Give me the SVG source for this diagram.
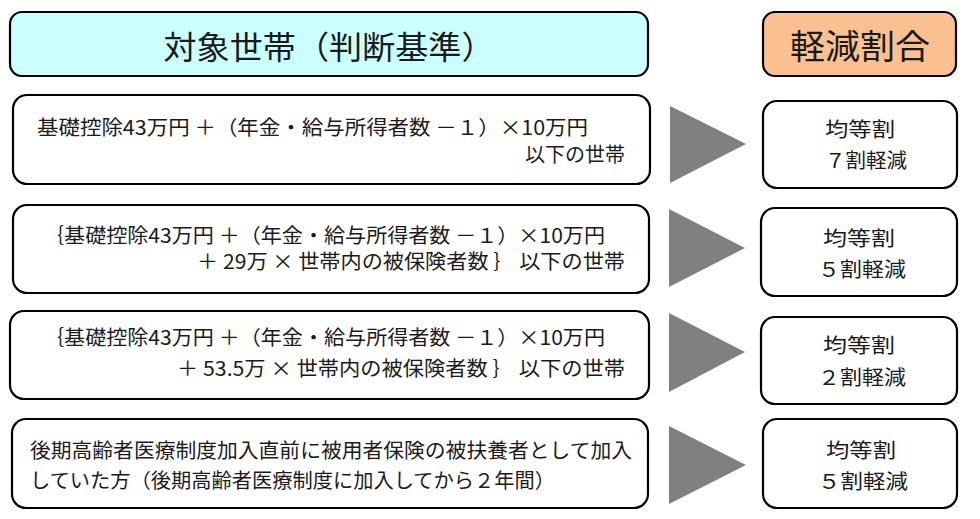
<svg xmlns="http://www.w3.org/2000/svg" width="980" height="519" viewBox="0 0 980 519">
<style>
.box{fill:#fff;stroke:#000;stroke-width:2.2}
.hdr1{fill:#CCFFFF;stroke:#000;stroke-width:2.2}
.hdr2{fill:#FAC090;stroke:#000;stroke-width:2.2}
.arrow{fill:#808080}
text{font-family:"Noto Sans CJK JP","Noto Sans",sans-serif;fill:#1a1a1a}
.t{font-size:20px}
.r{font-size:20px;text-anchor:middle}
.h{font-size:32px;text-anchor:middle}
</style>
<rect width="980" height="519" fill="#fff"/>
<g id="header-target">
<rect class="hdr1" x="10" y="12" width="638" height="64" rx="12"/>
<text class="h" x="329" y="59" textLength="331" lengthAdjust="spacingAndGlyphs">対象世帯（判断基準）</text>
</g>
<g id="header-rate">
<rect class="hdr2" x="763" y="12" width="193" height="64" rx="12"/>
<text class="h" x="860" y="59" style="font-size:34px" textLength="140" lengthAdjust="spacingAndGlyphs">軽減割合</text>
</g>
<g id="row1-cond">
<rect class="box" x="13" y="95" width="637" height="89" rx="14"/>
<text class="t" x="37" y="135" textLength="551" lengthAdjust="spacingAndGlyphs">基礎控除43万円 ＋（年金・給与所得者数 －１）×10万円</text>
<text class="t" x="625" y="162" text-anchor="end" textLength="100" lengthAdjust="spacingAndGlyphs">以下の世帯</text>
</g>
<g id="row1-rate">
<rect class="box" x="763" y="101" width="194" height="87" rx="14"/>
<text class="r" x="860" y="137" textLength="70" lengthAdjust="spacingAndGlyphs">均等割</text>
<text class="r" x="866" y="168" textLength="82" lengthAdjust="spacingAndGlyphs">７割軽減</text>
</g>
<g id="row2-cond">
<rect class="box" x="13" y="205" width="636" height="88" rx="14"/>
<text class="t" x="43" y="243" textLength="562" lengthAdjust="spacingAndGlyphs">｛基礎控除43万円 ＋（年金・給与所得者数 －１）×10万円</text>
<text class="t" x="625" y="269" text-anchor="end" textLength="428" lengthAdjust="spacingAndGlyphs">＋ 29万 × 世帯内の被保険者数 ｝ 以下の世帯</text>
</g>
<g id="row2-rate">
<rect class="box" x="761" y="208" width="196" height="88" rx="14"/>
<text class="r" x="859" y="246" textLength="72" lengthAdjust="spacingAndGlyphs">均等割</text>
<text class="r" x="862" y="277" textLength="88" lengthAdjust="spacingAndGlyphs">５割軽減</text>
</g>
<g id="row3-cond">
<rect class="box" x="10" y="311" width="639" height="88" rx="14"/>
<text class="t" x="43" y="345" textLength="562" lengthAdjust="spacingAndGlyphs">｛基礎控除43万円 ＋（年金・給与所得者数 －１）×10万円</text>
<text class="t" x="625" y="376" text-anchor="end" textLength="448" lengthAdjust="spacingAndGlyphs">＋ 53.5万 × 世帯内の被保険者数 ｝ 以下の世帯</text>
</g>
<g id="row3-rate">
<rect class="box" x="761" y="317" width="196" height="87" rx="14"/>
<text class="r" x="859" y="353" textLength="72" lengthAdjust="spacingAndGlyphs">均等割</text>
<text class="r" x="862" y="385" textLength="88" lengthAdjust="spacingAndGlyphs">２割軽減</text>
</g>
<g id="row4-cond">
<rect class="box" x="12" y="419" width="636" height="89" rx="14"/>
<text class="t" x="30" y="458" textLength="602" lengthAdjust="spacingAndGlyphs">後期高齢者医療制度加入直前に被用者保険の被扶養者として加入</text>
<text class="t" x="30" y="488" textLength="525" lengthAdjust="spacingAndGlyphs">していた方（後期高齢者医療制度に加入してから２年間）</text>
</g>
<g id="row4-rate">
<rect class="box" x="763" y="419" width="194" height="89" rx="14"/>
<text class="r" x="861" y="458" textLength="70" lengthAdjust="spacingAndGlyphs">均等割</text>
<text class="r" x="863" y="489" textLength="90" lengthAdjust="spacingAndGlyphs">５割軽減</text>
</g>
<g id="connectors">
<polygon class="arrow" points="670,106 746,144 670,183"/>
<polygon class="arrow" points="669,209 745,248 669,287"/>
<polygon class="arrow" points="669,313 745,352 669,392"/>
<polygon class="arrow" points="669,426 746,465 669,504"/>
</g>
</svg>
